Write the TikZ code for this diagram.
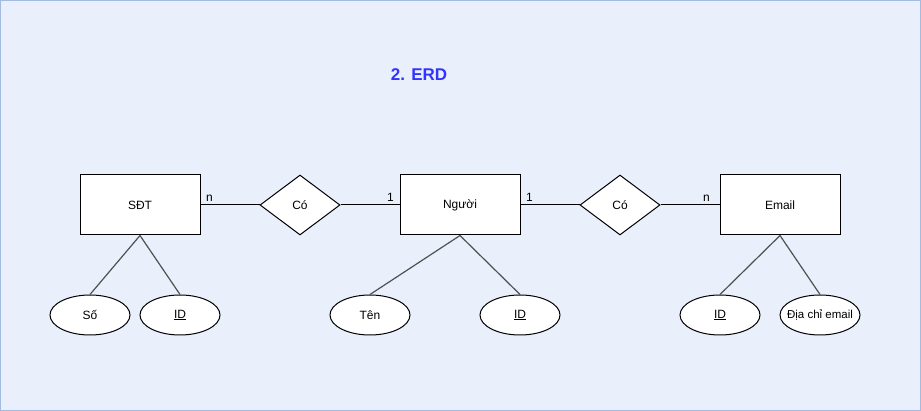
\documentclass[tikz,border=0pt]{standalone}
\usepackage{fontspec}
\setmainfont{Liberation Sans}
\usetikzlibrary{shapes.geometric}
\definecolor{bgblue}{HTML}{E9F0FC}
\definecolor{framecol}{HTML}{A3BAE2}
\definecolor{titleblue}{HTML}{3333FF}
\definecolor{attrline}{HTML}{505050}
\tikzset{
  entity/.style={draw=black, fill=white, line width=1pt, inner sep=0pt,
    minimum width=120pt, minimum height=60pt, font=\fontsize{12}{14}\selectfont},
  relation/.style={draw=black, fill=white, diamond, line width=1pt, inner sep=0pt,
    aspect=1.333, minimum width=80pt, minimum height=60pt, font=\fontsize{12}{14}\selectfont},
  attrib/.style={draw=black, fill=white, ellipse, line width=1pt, inner sep=0pt,
    minimum width=80pt, minimum height=40pt, font=\fontsize{12}{14}\selectfont},
  card/.style={font=\fontsize{12}{14}\selectfont, inner sep=1pt},
  link/.style={line width=1pt, draw=black},
  attrlink/.style={line width=1.2pt, draw=attrline}
}
\begin{document}
\begin{tikzpicture}[x=1pt, y=-1pt]
  % Background and frame
  \useasboundingbox (0,0) rectangle (921,411);
  \fill [bgblue] (0,0) rectangle (921,411);
  \draw [framecol, line width=1pt] (0.5,0.5) rectangle (920.5,410.5);

  % Title
  \node [font=\fontsize{17}{19}\selectfont\bfseries, text=titleblue] (title) at (419,75) {2. ERD};

  % Drawing entities
  \node [entity] (sdt) at (140,205) {SĐT};
  \node [entity] (nguoi) at (460,205) {Người};
  \node [entity] (email) at (780,205) {Email};

  % Drawing relationships
  \node [relation] (co1) at (300,205) {Có};
  \node [relation] (co2) at (620,205) {Có};

  % Drawing attributes
  \node [attrib] (so) at (90,315) {Số};
  \node [attrib] (sdtid) at (180,315) {\underline{ID}};
  \node [attrib] (ten) at (370,315) {Tên};
  \node [attrib] (nguoiid) at (520,315) {\underline{ID}};
  \node [attrib] (emailid) at (720,315) {\underline{ID}};
  \node [attrib, inner xsep=-9pt, font=\fontsize{11.5}{14}\selectfont] (diachi) at (820,315) {Địa chỉ email};

  % Drawing relationship links
  \draw [link] (sdt.east) -- (co1.west);
  \draw [link] (co1.east) -- (nguoi.west);
  \draw [link] (nguoi.east) -- (co2.west);
  \draw [link] (co2.east) -- (email.west);

  % Marking cardinalities
  \node [card, anchor=south west] (c1) at (205,203) {n};
  \node [card, anchor=south east] (c2) at (395,203) {1};
  \node [card, anchor=south west] (c3) at (525,203) {1};
  \node [card, anchor=south east] (c4) at (711,203) {n};

  % Drawing attribute links
  \draw [attrlink] (sdt.south) -- (so.north);
  \draw [attrlink] (sdt.south) -- (sdtid.north);
  \draw [attrlink] (nguoi.south) -- (ten.north);
  \draw [attrlink] (nguoi.south) -- (nguoiid.north);
  \draw [attrlink] (email.south) -- (emailid.north);
  \draw [attrlink] (email.south) -- (diachi.north);
\end{tikzpicture}
\end{document}
